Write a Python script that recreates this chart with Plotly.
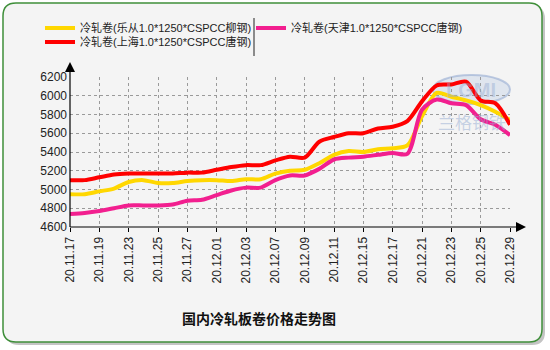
import plotly.graph_objects as go

dates = ["20.11.17", "20.11.18", "20.11.19", "20.11.20", "20.11.23", "20.11.24",
         "20.11.25", "20.11.26", "20.11.27", "20.11.30", "20.12.01", "20.12.02",
         "20.12.03", "20.12.04", "20.12.07", "20.12.08", "20.12.09", "20.12.10",
         "20.12.11", "20.12.14", "20.12.15", "20.12.16", "20.12.17", "20.12.18",
         "20.12.21", "20.12.22", "20.12.23", "20.12.24", "20.12.25", "20.12.28",
         "20.12.29"]
tick_labels = ["20.11.17", "20.11.19", "20.11.23", "20.11.25", "20.11.27", "20.12.01",
               "20.12.03", "20.12.07", "20.12.09", "20.12.11", "20.12.15", "20.12.17",
               "20.12.21", "20.12.23", "20.12.25", "20.12.29"]

name_lecong = "冷轧卷(乐从1.0*1250*CSPCC柳钢)"
name_shanghai = "冷轧卷(上海1.0*1250*CSPCC唐钢)"
name_tianjin = "冷轧卷(天津1.0*1250*CSPCC唐钢)"

lecong = [4950, 4950, 4980, 5010, 5080, 5100, 5070, 5070, 5090, 5100, 5100, 5090,
          5110, 5110, 5170, 5200, 5210, 5280, 5370, 5410, 5400, 5430, 5440, 5470,
          5780, 6030, 5990, 5950, 5900, 5830, 5740]
shanghai = [5100, 5100, 5130, 5160, 5170, 5170, 5170, 5170, 5180, 5180, 5210, 5240,
            5260, 5260, 5310, 5350, 5340, 5510, 5560, 5600, 5600, 5650, 5670, 5730,
            5940, 6110, 6120, 6150, 5950, 5920, 5690]
tianjin = [4740, 4750, 4770, 4800, 4830, 4830, 4830, 4840, 4880, 4890, 4940, 4990,
           5020, 5020, 5100, 5150, 5150, 5220, 5320, 5340, 5350, 5370, 5390, 5380,
           5850, 5960, 5920, 5900, 5750, 5690, 5580]

title_text = "国内冷轧板卷价格走势图"

W, H = 550, 350
L, R, T, B = 70, 40, 77, 123
PW, PH = W - L - R, H - T - B


def px(x):
    return (x - L) / PW


def py(y):
    return (H - B - y) / PH


def rrect(x0, y0, x1, y1, r):
    return (f"M {px(x0 + r)},{py(y0)} L {px(x1 - r)},{py(y0)} "
            f"Q {px(x1)},{py(y0)} {px(x1)},{py(y0 + r)} L {px(x1)},{py(y1 - r)} "
            f"Q {px(x1)},{py(y1)} {px(x1 - r)},{py(y1)} L {px(x0 + r)},{py(y1)} "
            f"Q {px(x0)},{py(y1)} {px(x0)},{py(y1 - r)} L {px(x0)},{py(y0 + r)} "
            f"Q {px(x0)},{py(y0)} {px(x0 + r)},{py(y0)} Z")


FONT = "Liberation Sans, Arial, Noto Sans CJK SC"
LEG_FONT = dict(size=11, color="#222", family=FONT)

fig = go.Figure()
fig.add_trace(go.Scatter(x=dates, y=lecong, name=name_lecong, mode="lines", legend="legend",
                         line=dict(color="#ffd700", width=4, shape="spline", smoothing=0.8)))
fig.add_trace(go.Scatter(x=dates, y=tianjin, name=name_tianjin, mode="lines", legend="legend3",
                         line=dict(color="#f21f8f", width=4, shape="spline", smoothing=0.8)))
fig.add_trace(go.Scatter(x=dates, y=shanghai, name=name_shanghai, mode="lines", legend="legend2",
                         line=dict(color="#ff0000", width=4, shape="spline", smoothing=0.8)))

shapes = [
    dict(type="path", xref="paper", yref="paper", path=rrect(6, 6, 545, 345, 13),
         fillcolor="#c4c4c4", line=dict(width=0), layer="below"),
    dict(type="path", xref="paper", yref="paper", path=rrect(3, 3, 542, 342, 13),
         fillcolor="#f4f4f4", line=dict(color="#3f8f3a", width=1.5), layer="below"),
    dict(type="circle", xref="paper", yref="paper", x0=px(433), x1=px(510), y0=py(75), y1=py(104),
         fillcolor="rgba(175,195,225,0.3)", line=dict(color="rgba(150,172,210,0.6)", width=2),
         layer="below"),
    # legend separator
    dict(type="line", xref="paper", yref="paper", x0=px(254), x1=px(254), y0=py(18), y1=py(56),
         line=dict(color="#222", width=1)),
    # axis lines
    dict(type="line", xref="paper", yref="paper", x0=0, x1=0, y0=py(227), y1=py(68),
         line=dict(color="black", width=1.2)),
    dict(type="line", xref="paper", yref="paper", x0=0, x1=px(518), y0=0, y1=0,
         line=dict(color="black", width=1.2)),
    dict(type="path", xref="paper", yref="paper",
         path=f"M {px(70)},{py(62)} L {px(65)},{py(72)} L {px(75)},{py(72)} Z",
         fillcolor="black", line=dict(width=0)),
    dict(type="path", xref="paper", yref="paper",
         path=f"M {px(526)},{py(227)} L {px(516)},{py(222)} L {px(516)},{py(232)} Z",
         fillcolor="black", line=dict(width=0)),
]

annotations = [
    dict(text="<b>" + title_text + "</b>", xref="paper", yref="paper", x=px(259), y=py(318),
         xanchor="center", yanchor="middle", showarrow=False,
         font=dict(size=14, color="#111", family="Noto Sans CJK SC")),
    dict(text="<b>LGMI</b>", xref="paper", yref="paper", x=px(471), y=py(90),
         xanchor="center", yanchor="middle", showarrow=False,
         font=dict(size=20, color="rgba(150,172,210,0.45)", family=FONT)),
    dict(text="兰格钢铁", xref="paper", yref="paper", x=px(472), y=py(121),
         xanchor="center", yanchor="middle", showarrow=False,
         font=dict(size=17, color="rgba(150,172,210,0.5)", family="Noto Sans CJK SC")),
]

leg_common = dict(orientation="h", xanchor="left", yanchor="middle",
                  bgcolor="rgba(0,0,0,0)", font=LEG_FONT, itemwidth=30, tracegroupgap=0)

fig.update_layout(
    width=W, height=H,
    margin=dict(l=L, r=R, t=T, b=B),
    paper_bgcolor="white", plot_bgcolor="rgba(0,0,0,0)",
    font=dict(family=FONT, size=12, color="#222"),
    shapes=shapes, annotations=annotations,
    showlegend=True,
    legend=dict(x=px(40), y=py(28), **leg_common),
    legend2=dict(x=px(40), y=py(42), **leg_common),
    legend3=dict(x=px(251), y=py(28), **leg_common),
    xaxis=dict(type="category", range=[0, len(dates) - 1], tickmode="array",
               tickvals=tick_labels, ticktext=tick_labels, tickangle=-90,
               showgrid=True, gridcolor="#9a9a9a", griddash="dot", gridwidth=1,
               ticks="outside", ticklen=4, tickcolor="black", showline=False,
               zeroline=False, tickfont=dict(size=12, color="#222")),
    yaxis=dict(range=[4600, 6200], tick0=4600, dtick=200, showgrid=True,
               gridcolor="#9a9a9a", griddash="dot", gridwidth=1,
               ticks="", ticklabelstandoff=2, showline=False,
               zeroline=False, tickfont=dict(size=12, color="#222")),
)

fig.write_html("out.html")
